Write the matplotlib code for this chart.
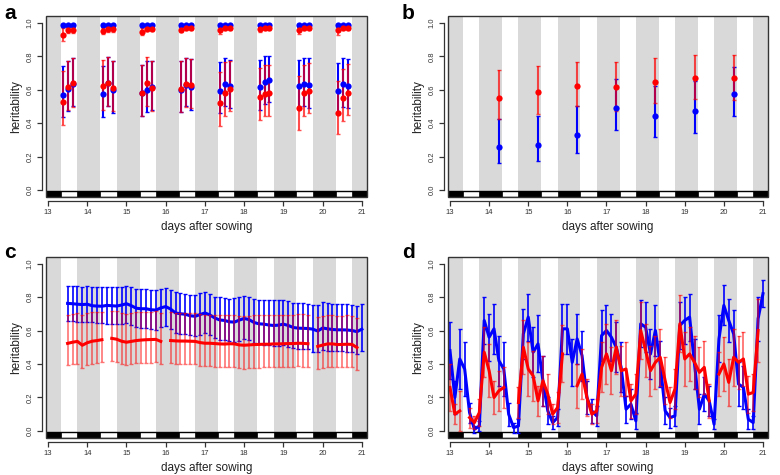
import matplotlib
matplotlib.use('Agg')
import matplotlib.pyplot as plt
from matplotlib.patches import Rectangle
import numpy as np

plt.rcParams['font.family'] = ['Liberation Sans', 'DejaVu Sans']

# photoperiod (fraction of day): lights on 8:00, off 18:00
lights_on = 8 / 24
lights_off = 18 / 24

# ---- panel a: three time points per day ----
a_days = [13, 14, 15, 16, 17, 18, 19, 20]
a_offsets = [0.395, 0.52, 0.645]
a_blue = [[0.570, 0.605, 0.635], [0.575, 0.640, 0.600], [0.578, 0.600, 0.618], [0.600, 0.630, 0.618],
          [0.595, 0.635, 0.620], [0.615, 0.648, 0.657], [0.620, 0.635, 0.628], [0.593, 0.633, 0.623]]
a_blue_lo = [[0.435, 0.470, 0.500], [0.435, 0.500, 0.460], [0.440, 0.465, 0.480], [0.465, 0.500, 0.480],
             [0.460, 0.500, 0.490], [0.480, 0.515, 0.525], [0.490, 0.500, 0.490], [0.460, 0.495, 0.490]]
a_blue_hi = [[0.745, 0.775, 0.790], [0.745, 0.795, 0.770], [0.750, 0.775, 0.775], [0.770, 0.790, 0.785],
             [0.765, 0.790, 0.780], [0.780, 0.800, 0.805], [0.780, 0.790, 0.790], [0.760, 0.790, 0.785]]
a_red = [[0.527, 0.615, 0.640], [0.620, 0.640, 0.610], [0.578, 0.640, 0.610], [0.605, 0.633, 0.627],
         [0.520, 0.580, 0.607], [0.555, 0.577, 0.580], [0.493, 0.580, 0.595], [0.463, 0.550, 0.582]]
a_red_lo = [[0.390, 0.480, 0.495], [0.480, 0.500, 0.475], [0.440, 0.505, 0.475], [0.465, 0.495, 0.490],
            [0.385, 0.445, 0.475], [0.420, 0.440, 0.445], [0.360, 0.445, 0.460], [0.335, 0.415, 0.450]]
a_red_hi = [[0.710, 0.775, 0.790], [0.780, 0.795, 0.770], [0.750, 0.795, 0.770], [0.770, 0.790, 0.785],
            [0.705, 0.765, 0.775], [0.730, 0.750, 0.750], [0.680, 0.750, 0.760], [0.655, 0.725, 0.755]]
a_top_blue = [[0.985, 0.985, 0.985], [0.985, 0.985, 0.985], [0.985, 0.985, 0.985], [0.985, 0.985, 0.985],
              [0.985, 0.985, 0.985], [0.985, 0.985, 0.985], [0.985, 0.985, 0.985], [0.985, 0.985, 0.985]]
a_top_blue_lo = [[0.975, 0.975, 0.975], [0.975, 0.975, 0.975], [0.975, 0.975, 0.975], [0.975, 0.975, 0.975],
                 [0.975, 0.975, 0.975], [0.975, 0.975, 0.975], [0.975, 0.975, 0.975], [0.975, 0.975, 0.975]]
a_top_blue_hi = [[0.993, 0.993, 0.993], [0.993, 0.993, 0.993], [0.993, 0.993, 0.993], [0.993, 0.993, 0.993],
                 [0.993, 0.993, 0.993], [0.993, 0.993, 0.993], [0.993, 0.993, 0.993], [0.993, 0.993, 0.993]]
a_top_red = [[0.930, 0.958, 0.958], [0.952, 0.963, 0.963], [0.948, 0.965, 0.965], [0.960, 0.968, 0.968],
             [0.955, 0.968, 0.968], [0.962, 0.968, 0.968], [0.955, 0.968, 0.968], [0.955, 0.968, 0.968]]
a_top_red_lo = [[0.890, 0.940, 0.942], [0.935, 0.948, 0.948], [0.928, 0.950, 0.950], [0.945, 0.955, 0.955],
                [0.932, 0.955, 0.955], [0.948, 0.955, 0.955], [0.935, 0.955, 0.955], [0.930, 0.955, 0.955]]
a_top_red_hi = [[0.968, 0.975, 0.975], [0.972, 0.978, 0.978], [0.970, 0.978, 0.978], [0.978, 0.980, 0.980],
                [0.975, 0.980, 0.980], [0.978, 0.980, 0.980], [0.975, 0.980, 0.980], [0.975, 0.980, 0.980]]

# ---- panel b: one value per day ----
b_x = [14.25, 15.25, 16.25, 17.25, 18.25, 19.25, 20.25]
b_blue = [0.260, 0.272, 0.328, 0.490, 0.444, 0.470, 0.574]
b_blue_lo = [0.164, 0.176, 0.220, 0.360, 0.316, 0.340, 0.440]
b_blue_hi = [0.424, 0.444, 0.505, 0.664, 0.624, 0.650, 0.734]
b_red = [0.550, 0.584, 0.620, 0.618, 0.644, 0.668, 0.668]
b_red_lo = [0.424, 0.452, 0.505, 0.470, 0.520, 0.545, 0.540]
b_red_hi = [0.716, 0.744, 0.768, 0.768, 0.788, 0.806, 0.806]

# ---- panel c: every 3 h from 13.5 to 21 ----
c_x = np.arange(13.5, 21.01, 0.125)
nan = np.nan
c_blue = [0.762, 0.760, 0.757, 0.755, 0.757, 0.748, 0.746, 0.745, 0.750, 0.748, 0.746, 0.752, 0.760,
          0.748, 0.733, 0.730, 0.730, 0.724, 0.722, 0.735, 0.743, 0.728, 0.705, 0.700, 0.697, 0.688,
          0.685, 0.695, 0.705, 0.693, 0.675, 0.663, 0.660, 0.652, 0.650, 0.662, 0.672, 0.665, 0.648,
          0.640, 0.638, 0.633, 0.630, 0.632, 0.638, 0.630, 0.618, 0.614, 0.613, 0.612, 0.608, 0.597,
          0.615, 0.610, 0.606, 0.604, 0.604, 0.603, 0.600, 0.593, 0.608]
c_blue_hi = [0.865, 0.865, 0.863, 0.862, 0.865, 0.860, 0.858, 0.857, 0.858, 0.860, 0.858, 0.860, 0.865,
             0.858, 0.850, 0.845, 0.845, 0.840, 0.840, 0.848, 0.855, 0.840, 0.828, 0.826, 0.820, 0.815,
             0.815, 0.825, 0.830, 0.820, 0.800, 0.800, 0.795, 0.790, 0.795, 0.800, 0.805, 0.800, 0.790,
             0.785, 0.785, 0.780, 0.780, 0.780, 0.785, 0.775, 0.765, 0.765, 0.765, 0.760, 0.755, 0.750,
             0.768, 0.765, 0.760, 0.758, 0.758, 0.757, 0.755, 0.745, 0.760]
c_blue_lo = [0.655, 0.655, 0.652, 0.650, 0.652, 0.648, 0.645, 0.645, 0.640, 0.640, 0.636, 0.640, 0.645,
             0.632, 0.618, 0.614, 0.614, 0.610, 0.606, 0.618, 0.628, 0.610, 0.588, 0.582, 0.578, 0.572,
             0.568, 0.576, 0.583, 0.572, 0.555, 0.545, 0.543, 0.535, 0.532, 0.540, 0.548, 0.542, 0.525,
             0.518, 0.516, 0.512, 0.508, 0.508, 0.512, 0.504, 0.494, 0.490, 0.488, 0.487, 0.472, 0.470,
             0.486, 0.480, 0.477, 0.475, 0.475, 0.473, 0.470, 0.462, 0.476]
c_red = [0.523, 0.530, 0.535, 0.512, 0.527, 0.536, 0.540, 0.545, nan, 0.553, 0.548, 0.536, 0.530,
         0.535, 0.540, 0.543, 0.545, 0.546, 0.547, 0.535, nan, 0.540, 0.538, 0.537, 0.537, 0.536,
         0.535, 0.528, 0.524, 0.524, 0.522, 0.520, 0.519, 0.521, 0.520, 0.514, 0.512, 0.514, 0.516,
         0.517, 0.518, 0.518, 0.520, 0.520, 0.521, 0.522, 0.522, 0.524, 0.523, 0.521, nan, 0.505,
         0.513, 0.520, 0.520, 0.516, 0.517, 0.518, 0.517, 0.498, nan]
c_red_hi = [0.695, 0.700, 0.705, 0.690, 0.705, 0.710, 0.712, 0.713, nan, 0.717, 0.714, 0.706, 0.700,
            0.705, 0.710, 0.712, 0.713, 0.713, 0.714, 0.705, nan, 0.708, 0.705, 0.704, 0.704, 0.703,
            0.702, 0.697, 0.694, 0.694, 0.693, 0.692, 0.691, 0.693, 0.692, 0.688, 0.686, 0.688, 0.690,
            0.691, 0.692, 0.692, 0.694, 0.694, 0.695, 0.695, 0.695, 0.696, 0.696, 0.694, nan, 0.678,
            0.686, 0.690, 0.690, 0.688, 0.689, 0.690, 0.689, 0.675, nan]
c_red_lo = [0.392, 0.398, 0.400, 0.378, 0.394, 0.402, 0.406, 0.410, nan, 0.418, 0.412, 0.400, 0.394,
            0.398, 0.404, 0.406, 0.408, 0.408, 0.410, 0.398, nan, 0.404, 0.402, 0.401, 0.400, 0.399,
            0.398, 0.390, 0.387, 0.387, 0.384, 0.382, 0.381, 0.383, 0.382, 0.375, 0.373, 0.376, 0.378,
            0.379, 0.380, 0.380, 0.382, 0.382, 0.383, 0.384, 0.384, 0.386, 0.385, 0.383, nan, 0.368,
            0.376, 0.384, 0.384, 0.380, 0.381, 0.382, 0.381, 0.365, nan]

# ---- panel d: every 3 h from 13 to 21 ----
d_x = np.arange(13.0, 21.01, 0.125)
d_blue = [0.48, 0.20, 0.43, 0.37, 0.11, 0.01, 0.03, 0.66,
          0.56, 0.61, 0.42, 0.37, 0.10, 0.02, 0.03, 0.58,
          0.68, 0.47, 0.52, 0.30, 0.12, 0.05, 0.08, 0.61,
          0.61, 0.41, 0.55, 0.45, 0.20, 0.12, 0.09, 0.57,
          0.60, 0.56, 0.50, 0.38, 0.13, 0.16, 0.06, 0.64,
          0.62, 0.46, 0.60, 0.40, 0.12, 0.08, 0.09, 0.63,
          0.66, 0.68, 0.40, 0.13, 0.22, 0.18, 0.04, 0.55,
          0.75, 0.66, 0.58, 0.28, 0.26, 0.07, 0.05, 0.67,
          0.82]
d_blue_err = [0.17, 0.10, 0.18, 0.16, 0.06, 0.02, 0.03, 0.14,
              0.14, 0.15, 0.15, 0.16, 0.07, 0.03, 0.04, 0.15,
              0.14, 0.15, 0.17, 0.15, 0.08, 0.04, 0.05, 0.15,
              0.15, 0.14, 0.15, 0.15, 0.10, 0.07, 0.06, 0.15,
              0.15, 0.14, 0.15, 0.15, 0.08, 0.09, 0.05, 0.14,
              0.15, 0.15, 0.15, 0.14, 0.08, 0.06, 0.06, 0.14,
              0.14, 0.14, 0.15, 0.09, 0.10, 0.09, 0.03, 0.14,
              0.12, 0.13, 0.14, 0.13, 0.13, 0.06, 0.04, 0.13,
              0.08]
d_red = [0.26, 0.10, 0.12, nan, 0.08, 0.05, 0.11, 0.47,
         0.36, 0.20, 0.24, 0.26, nan, nan, 0.17, 0.50,
         0.37, 0.33, 0.18, 0.30, 0.22, 0.10, 0.14, 0.46,
         nan, nan, 0.27, 0.34, 0.20, 0.10, 0.12, 0.38,
         0.46, 0.36, 0.50, 0.36, 0.37, 0.18, 0.22, 0.60,
         0.48, 0.36, 0.41, 0.44, 0.30, 0.17, 0.25, 0.64,
         0.43, 0.46, 0.41, 0.35, 0.38, 0.18, nan, 0.34,
         0.40, 0.29, 0.44, 0.41, 0.43, 0.22, 0.23, 0.60,
         nan]
d_red_err = [0.14, 0.06, 0.12, nan, 0.06, 0.04, 0.08, 0.15,
             0.16, 0.10, 0.12, 0.12, nan, nan, 0.09, 0.16,
             0.16, 0.15, 0.09, 0.15, 0.12, 0.06, 0.09, 0.17,
             nan, nan, 0.13, 0.15, 0.11, 0.06, 0.07, 0.15,
             0.18, 0.14, 0.16, 0.15, 0.16, 0.10, 0.12, 0.17,
             0.16, 0.15, 0.16, 0.17, 0.14, 0.09, 0.12, 0.17,
             0.16, 0.16, 0.16, 0.15, 0.16, 0.10, nan, 0.13,
             0.16, 0.14, 0.17, 0.16, 0.16, 0.11, 0.11, 0.19,
             nan]

BLUE = '#0000ff'
RED = '#ff0000'
GREY = '#d9d9d9'
W, H = 780, 475


def setup(ax):
    ax.set_xlim(12.95, 21.13)
    ax.set_ylim(-0.042, 1.042)
    trans = ax.get_xaxis_transform()
    strip_h = 0.034
    # night stripes + light bar
    ax.add_patch(Rectangle((12.95, 0), 8.18, strip_h, transform=trans, facecolor='white',
                           edgecolor='black', lw=1.0, zorder=1))
    for d in range(12, 21):
        x0 = d + lights_off
        x1 = d + 1 + lights_on
        ax.axvspan(x0, x1, ymin=strip_h, ymax=1, color=GREY, lw=0, zorder=0)
        ax.add_patch(Rectangle((x0, 0), x1 - x0, strip_h, transform=trans, facecolor='black',
                               edgecolor='black', lw=0.5, zorder=1))
    # box
    ax.add_patch(Rectangle((0, 0), 1, 1, transform=ax.transAxes, fill=False, edgecolor='#333333',
                           lw=1.0, clip_on=False, zorder=10))
    for s in ['top', 'right']:
        ax.spines[s].set_visible(False)
    ax.spines['bottom'].set_position(('outward', 3))
    ax.spines['left'].set_position(('outward', 3))
    ax.spines['bottom'].set_bounds(13, 21)
    ax.spines['left'].set_bounds(0, 1)
    for s in ['bottom', 'left']:
        ax.spines[s].set_color('#333333')
        ax.spines[s].set_linewidth(0.9)
    ax.set_xticks(range(13, 22))
    ax.set_yticks([0, 0.2, 0.4, 0.6, 0.8, 1.0])
    ax.set_yticklabels(['0.0', '0.2', '0.4', '0.6', '0.8', '1.0'], rotation=90, va='center')
    ax.tick_params(direction='out', length=3.5, width=0.9, labelsize=5.5, colors='#333333', pad=2.5)
    ax.set_xlabel('days after sowing', fontsize=8.5, labelpad=3, color='#222222')
    ax.set_ylabel('heritability', fontsize=8.5, labelpad=3, color='#222222')


def points(ax, x, y, lo, hi, color, alpha):
    y = np.asarray(y, float)
    err = [y - np.asarray(lo, float), np.asarray(hi, float) - y]
    ax.errorbar(x, y, yerr=err, fmt='none', ecolor=color, elinewidth=1.5, capsize=1.5,
                capthick=1.0, alpha=alpha, zorder=3)
    ax.plot(x, y, 'o', color=color, ms=4.5, mec='none', zorder=4)


fig = plt.figure(figsize=(7.8, 4.75), dpi=100)
ax_a = fig.add_axes([0.0590, 0.5853, 0.4115, 0.3811])
ax_b = fig.add_axes([0.5744, 0.5853, 0.4103, 0.3811])
ax_c = fig.add_axes([0.0590, 0.0779, 0.4115, 0.3821])
ax_d = fig.add_axes([0.5744, 0.0779, 0.4103, 0.3821])

for ax in [ax_a, ax_b, ax_c, ax_d]:
    setup(ax)

# panel letters
for letter, px, py in [('a', 4, 19), ('b', 402, 19), ('c', 4, 258), ('d', 402, 258)]:
    fig.text(px / W, 1 - py / H, letter, fontsize=15, fontweight='bold', va='baseline', ha='left')

# a
a_x = np.array([[d + o for o in a_offsets] for d in a_days]).ravel()
flat = lambda v: np.array(v).ravel()
points(ax_a, a_x, flat(a_top_blue), flat(a_top_blue_lo), flat(a_top_blue_hi), BLUE, 1.0)
points(ax_a, a_x, flat(a_blue), flat(a_blue_lo), flat(a_blue_hi), BLUE, 1.0)
points(ax_a, a_x, flat(a_top_red), flat(a_top_red_lo), flat(a_top_red_hi), RED, 0.7)
points(ax_a, a_x, flat(a_red), flat(a_red_lo), flat(a_red_hi), RED, 0.7)

# b
points(ax_b, b_x, b_blue, b_blue_lo, b_blue_hi, BLUE, 1.0)
points(ax_b, b_x, b_red, b_red_lo, b_red_hi, RED, 0.7)

# c
cb = np.array(c_blue)
ax_c.errorbar(c_x, cb, yerr=[cb - np.array(c_blue_lo), np.array(c_blue_hi) - cb], fmt='none',
              ecolor=BLUE, elinewidth=1.2, capsize=1.5, capthick=1.0, zorder=3)
ax_c.plot(c_x, cb, color=BLUE, lw=2.2, zorder=4)
cr = np.array(c_red)
ax_c.errorbar(c_x, cr, yerr=[cr - np.array(c_red_lo), np.array(c_red_hi) - cr], fmt='none',
              ecolor=RED, elinewidth=1.2, capsize=1.5, capthick=1.0, alpha=0.55, zorder=5)
ax_c.plot(c_x, cr, color=RED, lw=2.2, zorder=6)

# d
db = np.array(d_blue)
ax_d.errorbar(d_x, db, yerr=d_blue_err, fmt='none', ecolor=BLUE, elinewidth=1.2, capsize=1.5,
              capthick=1.0, zorder=3)
ax_d.plot(d_x, db, color=BLUE, lw=2.2, zorder=4)
dr = np.array(d_red)
ax_d.errorbar(d_x, dr, yerr=d_red_err, fmt='none', ecolor=RED, elinewidth=1.2, capsize=1.5,
              capthick=1.0, alpha=0.6, zorder=5)
ax_d.plot(d_x, dr, color=RED, lw=2.2, zorder=6)

fig.savefig('out.png', dpi=100)
